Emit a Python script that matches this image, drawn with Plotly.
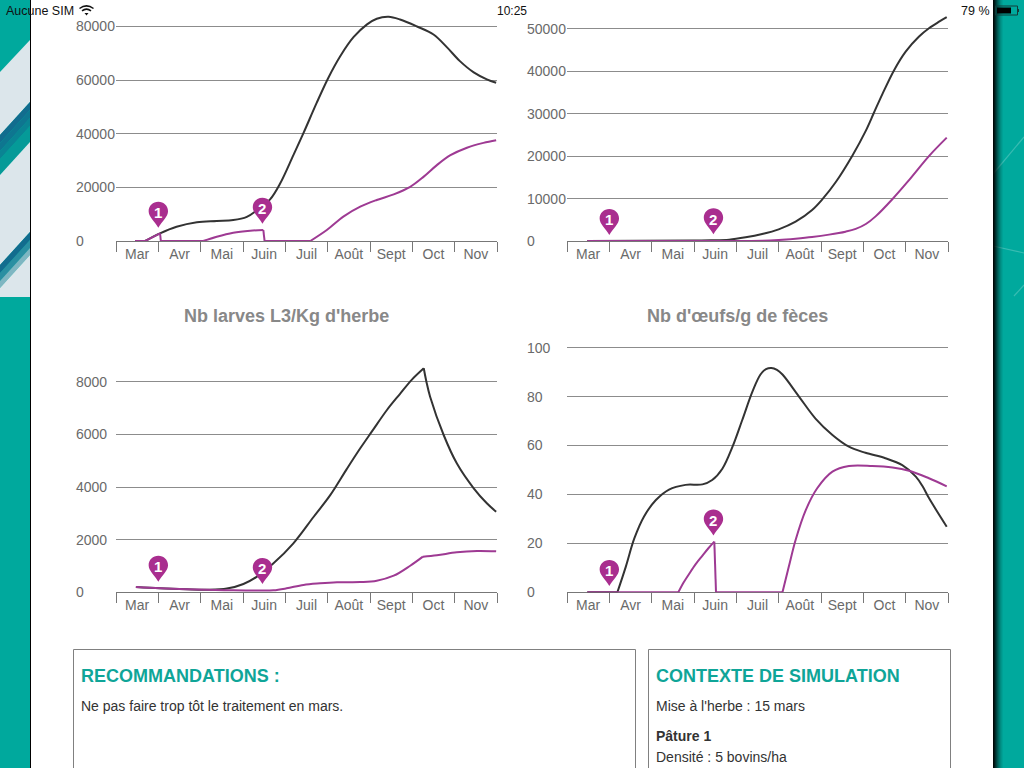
import plotly.graph_objects as go

W, H = 1024, 768

months = ["Mar", "Avr", "Mai", "Juin", "Juil", "Août", "Sept", "Oct", "Nov"]

# chart 1 (x = position in months from the start of March)
c1_dark_x = [0.45, 0.69, 1.04, 1.43, 1.91, 2.38, 2.77, 3.09, 3.33, 3.64, 3.88, 4.19, 4.43, 4.74, 5.02, 5.30, 5.61, 5.93, 6.16, 6.44, 6.71, 7.11, 7.50, 7.82, 8.13, 8.45, 8.76, 8.98]
c1_dark_y = [0, 0, 2850, 5300, 7000, 7450, 7800, 9000, 11500, 15500, 21500, 32000, 40300, 51500, 61000, 69000, 76000, 80800, 82900, 83600, 82600, 80000, 77000, 72200, 67000, 62900, 60300, 59000]
c1_purple_x = [0.45, 0.69, 1.04, 1.06, 2.06, 2.38, 2.77, 3.17, 3.48, 3.51, 4.59, 4.98, 5.37, 5.77, 6.16, 6.56, 6.95, 7.27, 7.58, 7.90, 8.29, 8.68, 8.98]
c1_purple_y = [0, 0, 2850, 0, 0, 1600, 3100, 3850, 4100, 0, 0, 4100, 9100, 12800, 15300, 17400, 20200, 24000, 28300, 32000, 34800, 36600, 37600]
c1_dark_kinks = [0.69]
c1_purple_kinks = [0.69, 1.04, 1.06, 2.06, 3.48, 3.51, 4.59]

# chart 2
c2_dark_x = [0.48, 3.0, 3.4, 3.83, 4.22, 4.61, 5.0, 5.4, 5.79, 6.03, 6.35, 6.74, 7.06, 7.25, 7.45, 7.73, 8.0, 8.31, 8.55, 8.79, 8.97]
c2_dark_y = [0, 100, 150, 300, 860, 1650, 2750, 4550, 7300, 9800, 13900, 20100, 26000, 30200, 34600, 40300, 44600, 48100, 50100, 51650, 52700]
c2_purple_x = [0.48, 3.83, 4.61, 5.0, 5.4, 5.79, 6.19, 6.58, 6.82, 7.06, 7.29, 7.69, 8.08, 8.55, 8.97]
c2_purple_y = [0, 0, 50, 230, 550, 950, 1500, 2200, 2850, 4000, 5800, 9900, 14350, 20000, 24350]
c2_dark_kinks = []
c2_purple_kinks = [3.83]

# chart 3
c3_dark_x = [0.47, 1.04, 1.67, 2.14, 2.62, 3.01, 3.33, 3.72, 4.19, 4.67, 5.06, 5.45, 5.77, 6.05, 6.40, 6.71, 6.99, 7.27, 7.33, 7.42, 7.74, 8.05, 8.45, 8.76, 8.98]
c3_dark_y = [200, 150, 115, 100, 140, 315, 595, 1100, 1860, 2870, 3690, 4680, 5470, 6120, 6925, 7540, 8080, 8510, 8020, 7430, 5975, 4900, 3950, 3380, 3060]
c3_purple_x = [0.47, 1.04, 1.67, 2.14, 2.77, 3.40, 3.72, 4.03, 4.43, 4.82, 5.22, 5.77, 6.16, 6.56, 6.95, 7.25, 7.58, 8.05, 8.53, 8.98]
c3_purple_y = [200, 150, 115, 100, 75, 65, 75, 150, 280, 340, 380, 390, 440, 630, 1010, 1355, 1405, 1520, 1570, 1555]
c3_dark_kinks = [7.27]
c3_purple_kinks = [7.25]

# chart 4
c4_dark_x = [0.48, 1.19, 1.39, 1.59, 1.82, 2.10, 2.41, 2.80, 3.20, 3.43, 3.67, 3.91, 4.14, 4.38, 4.57, 4.70, 4.83, 4.96, 5.09, 5.48, 5.87, 6.27, 6.66, 7.05, 7.52, 7.92, 8.24, 8.40, 8.55, 8.97]
c4_dark_y = [0, 0, 10.5, 22, 31, 37.7, 42, 43.9, 44.1, 45.9, 50.5, 59.5, 70.4, 82, 89, 91.2, 91.7, 90.9, 89, 80, 71, 64.3, 59.5, 57, 54.8, 52, 47.3, 43.3, 38.5, 26.8]
c4_purple_x = [0.48, 2.63, 2.75, 2.88, 3.04, 3.20, 3.34, 3.48, 3.52, 5.09, 5.24, 5.40, 5.64, 5.91, 6.27, 6.66, 7.21, 7.69, 8.08, 8.55, 8.97]
c4_purple_y = [0, 0, 3.9, 7.4, 11.5, 15, 18, 20.7, 0, 0, 10.5, 21.4, 33.6, 42.5, 49.3, 51.6, 51.6, 51, 49.7, 46.6, 43.3]
c4_dark_kinks = [1.19]
c4_purple_kinks = [2.63, 3.48, 3.52, 5.09]

# treatment pins: x in months, y is the value under the tip of the pin
pin_x = [1.0, 3.46]
c1_pin_y = [4970, 6460]
c2_pin_y = [1413, 1570]
c3_pin_y = [405, 316]
c4_pin_y = [2.6, 23.2]

c1_ticks = [0, 20000, 40000, 60000, 80000]
c2_ticks = [0, 10000, 20000, 30000, 40000, 50000]
c3_ticks = [0, 2000, 4000, 6000, 8000]
c4_ticks = [0, 20, 40, 60, 80, 100]

DARK = "#333333"
PURPLE = "#9E3A93"
PIN = "#A92E8F"
TEAL = "#00A99D"
GRID = "#8C8C8C"
LABEL = "#6A6A6A"
FONT = "Liberation Sans"


def fx(x):
    return x / W


def fy(y):
    return 1 - y / H


def poly(points, color):
    path = "M " + " L ".join(f"{fx(x):.5f} {fy(y):.5f}" for x, y in points) + " Z"
    return dict(type="path", xref="paper", yref="paper", path=path,
                fillcolor=color, line_width=0, layer="below")


def rect(x0, y0, x1, y1, fill=None, line=None, layer="below"):
    d = dict(type="rect", xref="paper", yref="paper", x0=fx(x0), x1=fx(x1),
             y0=fy(y0), y1=fy(y1), layer=layer)
    d["fillcolor"] = fill if fill else "rgba(0,0,0,0)"
    d["line"] = dict(color=line, width=1) if line else dict(width=0)
    return d


def seg(points, color="rgba(255,255,255,0.22)", width=1.2, layer="below"):
    path = "M " + " L ".join(f"{fx(x):.5f} {fy(y):.5f}" for x, y in points)
    return dict(type="path", xref="paper", yref="paper", path=path,
                line=dict(color=color, width=width), layer=layer)


def text(x, y, s, size=14, color="#333333", bold=False, anchor="left"):
    # annotations carry about 2px of padding
    off = {"left": -2, "right": 2, "center": 0}[anchor]
    return dict(xref="paper", yref="paper", x=fx(x + off), y=fy(y), text=f"<b>{s}</b>" if bold else s,
                showarrow=False, xanchor=anchor, yanchor="middle",
                font=dict(family=FONT, size=size, color=color))


def pieces(xs, ys, kinks):
    # cut a series at its sharp corners so the spline does not overshoot there
    out, cur_x, cur_y = [], [], []
    for a, b in zip(xs, ys):
        cur_x.append(a)
        cur_y.append(b)
        if a in kinks:
            out.append((cur_x, cur_y))
            cur_x, cur_y = [a], [b]
    out.append((cur_x, cur_y))
    return out


shapes = [
    # page background
    rect(0, 0, 31, H, TEAL),
    rect(993, 0, W, H, TEAL),
    poly([(0, 72), (30, 40), (30, 102), (0, 135)], "#DCE6EB"),
    poly([(0, 135), (30, 102), (30, 110), (0, 143)], "#126C8E"),
    poly([(0, 143), (30, 110), (30, 118), (0, 151)], "#0E7690"),
    poly([(0, 151), (30, 118), (30, 126), (0, 159)], "#0A8493"),
    poly([(0, 159), (30, 126), (30, 142), (0, 175)], "#059A98"),
    poly([(0, 175), (30, 142), (30, 232), (0, 265)], "#DCE6EB"),
    poly([(0, 265), (30, 232), (30, 240), (0, 273)], "#126C8E"),
    poly([(0, 273), (30, 240), (30, 248), (0, 281)], "#2A8FA2"),
    poly([(0, 281), (30, 248), (30, 255), (0, 288)], "#7FB6C2"),
    poly([(0, 288), (30, 255), (30, 297), (0, 297)], "#DCE6EB"),
    seg([(993, 174), (1024, 137)]),
    seg([(993, 246), (1024, 253)]),
    seg([(1014, 296), (1024, 285)]),
    rect(31, 0, 993, H, "white"),
    rect(30, 0, 31, H, "black"),
    # bottom boxes
    rect(73.5, 649.5, 635.5, H + 5, None, "#808080"),
    rect(648.5, 649.5, 950.5, H + 5, None, "#808080"),
    # battery
    rect(995.5, 6, 1017.5, 15, None, "#123C3A", layer="above"),
    rect(997, 7.5, 1011, 13.5, "black", layer="above"),
    rect(1018, 9, 1019, 12, "#123C3A", layer="above"),
]
# shadow on the right edge of the white page
for i, a in enumerate([0.95, 0.85, 0.72, 0.6, 0.48, 0.37, 0.27, 0.18, 0.11, 0.05]):
    shapes.append(rect(993 + i, 0, 994 + i, H, f"rgba(0,0,0,{a})"))

# wifi icon
for r, y0 in [(7, 8.5), (4.5, 10.8)]:
    p = f"M {fx(86.5 - r):.5f} {fy(y0):.5f} Q {fx(86.5):.5f} {fy(y0 - r * 0.75):.5f} {fx(86.5 + r):.5f} {fy(y0):.5f}"
    shapes.append(dict(type="path", xref="paper", yref="paper", path=p,
                       line=dict(color="#111111", width=1.5), layer="above"))
shapes.append(poly([(84.5, 13), (88.5, 13), (86.5, 15.5)], "#111111"))
shapes[-1]["layer"] = "above"

annotations = [
    text(6, 11, "Aucune SIM", 12.5, "#111111"),
    text(511.5, 11, "10:25", 12, "#111111", anchor="center"),
    text(990, 11, "79 %", 12.5, "#111111", anchor="right"),
    text(286.5, 315.5, "Nb larves L3/Kg d'herbe", 18, "#888888", True, "center"),
    text(737.5, 315.5, "Nb d'œufs/g de fèces", 18, "#888888", True, "center"),
    text(81, 676, "RECOMMANDATIONS :", 18, "#0FA598", True),
    text(81, 706, "Ne pas faire trop tôt le traitement en mars.", 14),
    text(656, 676, "CONTEXTE DE SIMULATION", 18, "#0FA598", True),
    text(656, 706, "Mise à l'herbe : 15 mars", 14),
    text(656, 736, "Pâture 1", 14, bold=True),
    text(656, 757, "Densité : 5 bovins/ha", 14),
]

PIN_PATH = ("M 0 0 C -4 7 -9.7 11 -9.7 16.5 C -9.7 22 -5.3 26 0 26 "
            "C 5.3 26 9.7 22 9.7 16.5 C 9.7 11 4 7 0 0 Z")

charts = [
    (c1_dark_x, c1_dark_y, c1_dark_kinks, c1_purple_x, c1_purple_y, c1_purple_kinks, c1_pin_y, c1_ticks, 116, 497, 241, 14, 84662, 76),
    (c2_dark_x, c2_dark_y, c2_dark_kinks, c2_purple_x, c2_purple_y, c2_purple_kinks, c2_pin_y, c2_ticks, 567, 948, 241, 14, 53462, 527),
    (c3_dark_x, c3_dark_y, c3_dark_kinks, c3_purple_x, c3_purple_y, c3_purple_kinks, c3_pin_y, c3_ticks, 116, 497, 592.3, 360, 8824, 76),
    (c4_dark_x, c4_dark_y, c4_dark_kinks, c4_purple_x, c4_purple_y, c4_purple_kinks, c4_pin_y, c4_ticks, 567, 948, 592.3, 340, 103.1, 527),
]

fig = go.Figure()
layout = {}

for i, (dx, dy, dk, px_, py_, pk, pin_y, ticks, left, right, zero, top, ymax, lab_x) in enumerate(charts):
    n = "" if i == 0 else str(i + 1)
    xa, ya = "x" + n, "y" + n
    for color, xs, ys, kinks in [(DARK, dx, dy, dk), (PURPLE, px_, py_, pk)]:
        for sx, sy in pieces(xs, ys, kinks):
            fig.add_trace(go.Scatter(x=sx, y=sy, mode="lines", xaxis=xa, yaxis=ya, cliponaxis=False,
                                     line=dict(color=color, width=2, shape="spline", smoothing=1)))

    layout["xaxis" + n] = dict(
        domain=[fx(left), fx(right)], range=[0, 9], anchor=ya, showgrid=False,
        zeroline=False, showline=True, linecolor="#777777", linewidth=1, layer="below traces",
        tickvals=[m + 0.5 for m in range(len(months))], ticktext=months, ticks="",
        ticklabelstandoff=0, tickfont=dict(family=FONT, size=14, color=LABEL),
        minor=dict(tickvals=list(range(len(months) + 1)), ticks="outside", ticklen=10,
                   tickcolor="#777777", tickwidth=1, showgrid=False),
    )
    layout["yaxis" + n] = dict(
        domain=[fy(zero), fy(top)], range=[0, ymax], anchor=xa, zeroline=False,
        tickvals=ticks[1:], showticklabels=False, ticks="", showline=False,
        showgrid=True, gridcolor=GRID, gridwidth=1,
    )

    # left aligned value labels
    for t in ticks:
        annotations.append(dict(xref="paper", yref=ya, x=fx(lab_x - 2), y=t, text=str(t), showarrow=False,
                                xanchor="left", yanchor="middle",
                                font=dict(family=FONT, size=14, color=LABEL)))

    for k, (pxv, pyv) in enumerate(zip(pin_x, pin_y)):
        shapes.append(dict(type="path", xref=xa, yref=ya, xsizemode="pixel", ysizemode="pixel",
                           xanchor=pxv, yanchor=pyv, path=PIN_PATH, fillcolor=PIN, line_width=0,
                           layer="above"))
        annotations.append(dict(xref=xa, yref=ya, x=pxv, y=pyv, yshift=15, text=f"<b>{k + 1}</b>",
                                showarrow=False, xanchor="center", yanchor="middle",
                                font=dict(family=FONT, size=15, color="white")))

fig.update_layout(
    width=W, height=H, autosize=False, margin=dict(l=0, r=0, t=0, b=0),
    paper_bgcolor="white", plot_bgcolor="rgba(0,0,0,0)", showlegend=False,
    shapes=shapes, annotations=annotations, **layout,
)

fig.write_html("out.html", config=dict(displayModeBar=False),
               post_script="document.body.style.margin='0';document.body.style.overflow='hidden';")
